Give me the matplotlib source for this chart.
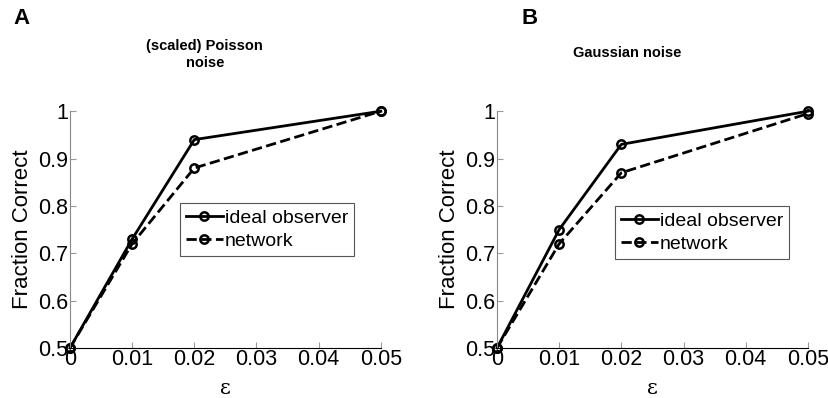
""" Fraction correct vs. epsilon, ideal observer vs. network """

import numpy as np
import matplotlib.pyplot as plt

plt.rcParams['font.family'] = ['Liberation Sans', 'DejaVu Sans']

# Data
eps = [0, 0.01, 0.02, 0.05]
poisson_ideal = [0.5, 0.73, 0.94, 1.0]
poisson_network = [0.5, 0.72, 0.88, 1.0]
gauss_ideal = [0.5, 0.75, 0.93, 1.0]
gauss_network = [0.5, 0.72, 0.87, 0.995]

x_ticks = [0, 0.01, 0.02, 0.03, 0.04, 0.05]
x_labels = ['0', '0.01', '0.02', '0.03', '0.04', '0.05']
y_ticks = [0.5, 0.6, 0.7, 0.8, 0.9, 1.0]
y_labels = ['0.5', '0.6', '0.7', '0.8', '0.9', '1']


def draw_panel(ax, ideal, network, legend_pos):
    """Draw one panel with both curves"""
    style = dict(color='black', marker='o', markersize=6, markerfacecolor='none',
                 markeredgewidth=1.8, linewidth=2, clip_on=False)
    ax.plot(eps, ideal, linestyle='-', label='ideal observer', **style)
    ax.plot(eps, network, linestyle='--', label='network', **style)
    ax.set_xlim(0, 0.05)
    ax.set_ylim(0.5, 1.0)
    ax.set_xticks(x_ticks, x_labels)
    ax.set_yticks(y_ticks, y_labels)
    ax.tick_params(direction='in', length=4, color='#999999', labelsize=15.5, pad=1)
    for side in ['top', 'right']:
        ax.spines[side].set_visible(False)
    ax.spines['left'].set_color('#888888')
    ax.spines['bottom'].set_color('black')
    ax.set_xlabel('ε', fontsize=15, family='DejaVu Serif', labelpad=6)
    ax.set_ylabel('Fraction Correct', fontsize=16, labelpad=4)
    leg = ax.legend(loc='upper left', bbox_to_anchor=legend_pos, borderaxespad=0,
                    fontsize=14, handlelength=1.9, handletextpad=0.1, borderpad=0.3,
                    labelspacing=0.3, fancybox=False, framealpha=1)
    leg.get_frame().set_edgecolor('#555555')
    leg.get_frame().set_linewidth(0.8)


fig = plt.figure(figsize=(8.29, 3.98), dpi=100)
ax_a = fig.add_axes([0.0844, 0.1256, 0.375, 0.595])
ax_b = fig.add_axes([0.5995, 0.1256, 0.375, 0.595])

draw_panel(ax_a, poisson_ideal, poisson_network, (0.354, 0.612))
draw_panel(ax_b, gauss_ideal, gauss_network, (0.379, 0.599))

fig.text(0.016, 0.94, 'A', fontsize=16, fontweight='bold')
fig.text(0.629, 0.94, 'B', fontsize=16, fontweight='bold')
fig.text(0.247, 0.863, '(scaled) Poisson\nnoise', fontsize=10.5, fontweight='bold',
         ha='center', va='center', linespacing=1.2)
fig.text(0.757, 0.866, 'Gaussian noise', fontsize=10.5, fontweight='bold',
         ha='center', va='center')

fig.savefig('out.png', dpi=100)
